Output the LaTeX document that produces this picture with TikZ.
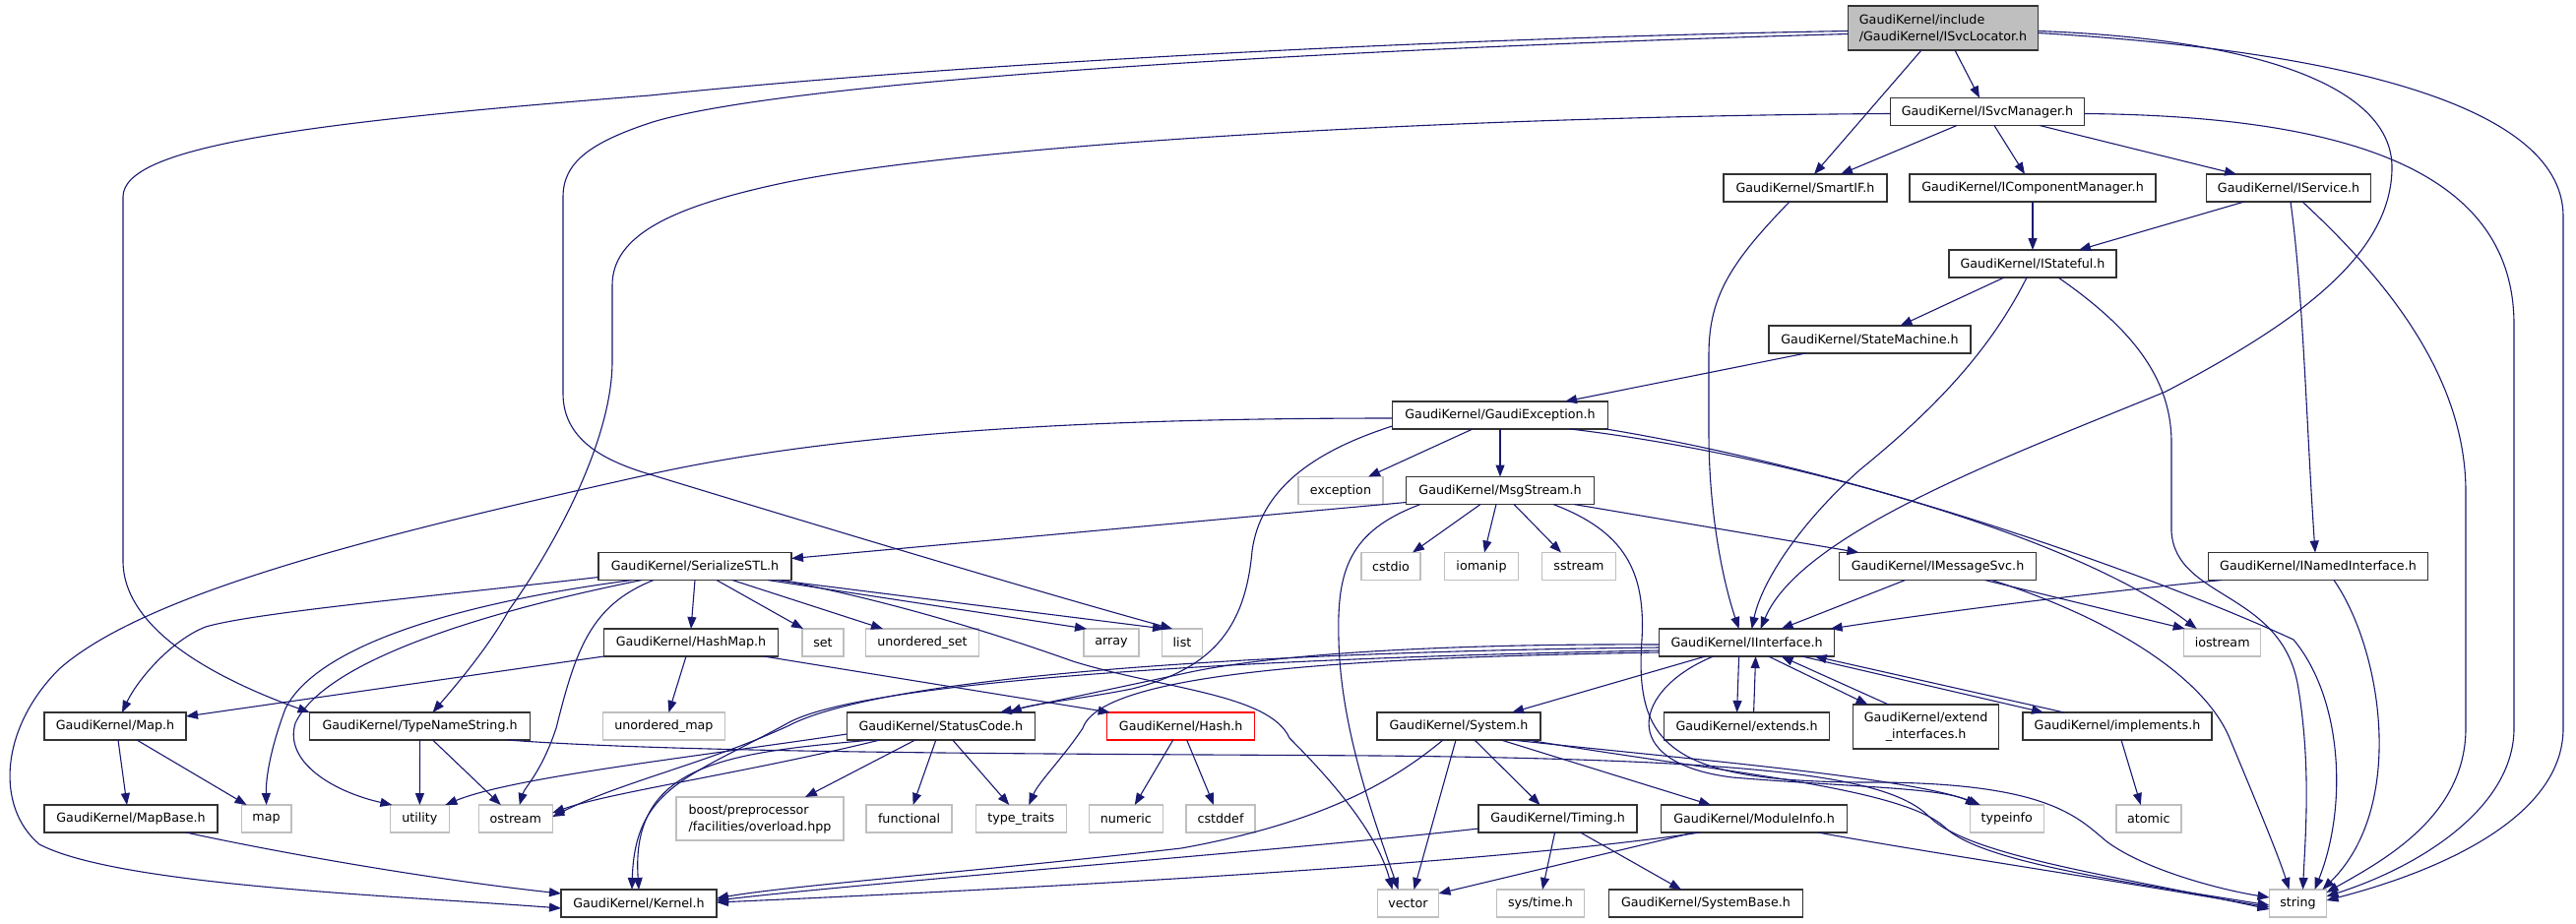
\documentclass[tikz,border=0pt]{standalone}
\usepackage{fontspec}
\setmainfont{DejaVu Sans}
\usetikzlibrary{arrows.meta}
\definecolor{edgecol}{HTML}{191970}
\definecolor{sysgray}{HTML}{BFBFBF}
\definecolor{boxline}{HTML}{333333}
\begin{document}
\begin{tikzpicture}[x=1pt,y=-1pt,
  every node/.style={font=\fontsize{12.7}{17}\selectfont, inner sep=0pt, outer sep=0pt, minimum height=28},
  box/.style={draw=boxline, line width=1.4pt, fill=white},
  sysbox/.style={draw=sysgray, line width=1.4pt, fill=white},
  redbox/.style={draw=red, line width=1.4pt, fill=white},
  rootbox/.style={draw=boxline, line width=1.4pt, fill=sysgray},
  edge/.style={draw=edgecol, line width=1.1pt, -{Triangle[length=12pt,width=9pt]}}]
\useasboundingbox (0,0) rectangle (2617,938);
% nodes
\node[rootbox, minimum width=193, minimum height=45, align=left] (root) at (1974,28.5) {GaudiKernel/include\\/GaudiKernel/ISvcLocator.h};
\node[box, minimum width=197] (svcmgr) at (2019,113.5) {GaudiKernel/ISvcManager.h};
\node[box, minimum width=166] (smartif) at (1834,191) {GaudiKernel/SmartIF.h};
\node[box, minimum width=250] (compmgr) at (2065,191) {GaudiKernel/IComponentManager.h};
\node[box, minimum width=167] (service) at (2325,191) {GaudiKernel/IService.h};
\node[box, minimum width=170] (stateful) at (2065,268) {GaudiKernel/IStateful.h};
\node[box, minimum width=205] (statemach) at (1899.5,345) {GaudiKernel/StateMachine.h};
\node[box, minimum width=219] (gexc) at (1524,422) {GaudiKernel/GaudiException.h};
\node[sysbox, minimum width=86] (exception) at (1362,498.5) {exception};
\node[box, minimum width=191] (msgstream) at (1524,498.5) {GaudiKernel/MsgStream.h};
\node[sysbox, minimum width=60] (cstdio) at (1413,575.5) {cstdio};
\node[sysbox, minimum width=75] (iomanip) at (1505,575.5) {iomanip};
\node[sysbox, minimum width=75] (sstream) at (1604,575.5) {sstream};
\node[box, minimum width=200] (msgsvc) at (1968.5,575.5) {GaudiKernel/IMessageSvc.h};
\node[box, minimum width=223] (named) at (2355,575.5) {GaudiKernel/INamedInterface.h};
\node[box, minimum width=196] (serial) at (706,575.5) {GaudiKernel/SerializeSTL.h};
\node[box, minimum width=177] (hashmap) at (702,653) {GaudiKernel/HashMap.h};
\node[sysbox, minimum width=42] (set) at (836,653) {set};
\node[sysbox, minimum width=115] (uset) at (937,653) {unordered\_set};
\node[sysbox, minimum width=56] (array) at (1129,653) {array};
\node[sysbox, minimum width=41] (list) at (1201,653) {list};
\node[box, minimum width=178] (iinterface) at (1774.6,653) {GaudiKernel/IInterface.h};
\node[sysbox, minimum width=78] (iostream) at (2257.7,653) {iostream};
\node[box, minimum width=144] (mapH) at (117,738) {GaudiKernel/Map.h};
\node[box, minimum width=224] (typename) at (426.6,738) {GaudiKernel/TypeNameString.h};
\node[sysbox, minimum width=124] (umap) at (674.4,738) {unordered\_map};
\node[box, minimum width=191] (statuscode) at (955.8,738) {GaudiKernel/StatusCode.h};
\node[redbox, minimum width=150] (hash) at (1199.7,738) {GaudiKernel/Hash.h};
\node[box, minimum width=166] (system) at (1482,738) {GaudiKernel/System.h};
\node[box, minimum width=168] (extends) at (1774.6,738) {GaudiKernel/extends.h};
\node[box, minimum width=148, minimum height=45, align=center] (extif) at (1956.6,738.5) {GaudiKernel/extend\\\_interfaces.h};
\node[box, minimum width=192] (implements) at (2151,738) {GaudiKernel/implements.h};
\node[box, minimum width=176] (mapbase) at (133,832) {GaudiKernel/MapBase.h};
\node[sysbox, minimum width=50.5] (map) at (270.6,832) {map};
\node[sysbox, minimum width=60] (utility) at (426.4,832) {utility};
\node[sysbox, minimum width=75] (ostream) at (523.8,832) {ostream};
\node[sysbox, minimum width=170, minimum height=44, align=left] (boost) at (772,832) {boost/preprocessor\\/facilities/overload.hpp};
\node[sysbox, minimum width=87] (functional) at (923.6,832) {functional};
\node[sysbox, minimum width=92] (typetraits) at (1037.3,832) {type\_traits};
\node[sysbox, minimum width=75] (numeric) at (1143.8,832) {numeric};
\node[sysbox, minimum width=70] (cstddef) at (1240,832) {cstddef};
\node[box, minimum width=161] (timing) at (1582.6,832) {GaudiKernel/Timing.h};
\node[box, minimum width=189] (moduleinfo) at (1782,832) {GaudiKernel/ModuleInfo.h};
\node[sysbox, minimum width=75] (typeinfo) at (2038.8,832) {typeinfo};
\node[sysbox, minimum width=66] (atomic) at (2182.8,832) {atomic};
\node[box, minimum width=158] (kernel) at (649,918) {GaudiKernel/Kernel.h};
\node[sysbox, minimum width=62] (vector) at (1430.5,918) {vector};
\node[sysbox, minimum width=89] (systime) at (1565,918) {sys/time.h};
\node[box, minimum width=197] (sysbase) at (1733,918) {GaudiKernel/SystemBase.h};
\node[sysbox, minimum width=58] (string) at (2334.5,918) {string};
% root
\draw[edge] ([xshift=12]root.south) -- ([xshift=-8]svcmgr.north);
\draw[edge] ([xshift=-22]root.south) -- ([xshift=9]smartif.north);
\draw[edge] ([yshift=-3]root.west) .. controls (1500,38) and (1000,62) .. (660,97) .. controls (300,125) and (125,150) .. (125,200) -- (125,570) .. controls (125,640) and (220,690) .. ([xshift=-112]typename.north);
\draw[edge] ([yshift=-6]root.west) .. controls (1400,48) and (800,80) .. (660,125) .. controls (600,145) and (572,165) .. (572,200) -- (572,400) .. controls (572,450) and (620,470) .. (660,482) .. controls (850,540) and (1050,600) .. ([xshift=-10]list.north);
\draw[edge] ([yshift=-3]root.east) .. controls (2300,40) and (2430,90) .. (2430,170) .. controls (2430,260) and (2330,330) .. (2200,398) .. controls (2050,460) and (1830,540) .. ([xshift=14]iinterface.north);
\draw[edge] ([yshift=-5]root.east) .. controls (2350,50) and (2604,100) .. (2604,220) -- (2604,740) .. controls (2604,830) and (2480,885) .. ([yshift=3]string.east);
% ISvcManager
\draw[edge] ([xshift=-31]svcmgr.south) -- ([xshift=36]smartif.north);
\draw[edge] ([xshift=7]svcmgr.south) -- ([xshift=-8]compmgr.north);
\draw[edge] ([xshift=53]svcmgr.south) -- ([xshift=-53]service.north);
\draw[edge] ([yshift=-2]svcmgr.west) .. controls (1500,118) and (1000,145) .. (800,185) .. controls (680,210) and (622,240) .. (622,290) -- (622,367) .. controls (622,450) and (560,560) .. (517,620) .. controls (495,660) and (460,700) .. ([xshift=13]typename.north);
\draw[edge] ([yshift=-2]svcmgr.east) .. controls (2400,118) and (2554,180) .. (2554,330) -- (2554,740) .. controls (2554,820) and (2460,880) .. ([yshift=7]string.east);
% SmartIF
\draw[edge] ([xshift=-16]smartif.south) .. controls (1760,265) and (1736,300) .. (1736,360) -- (1736,440) .. controls (1736,520) and (1750,590) .. ([xshift=-8]iinterface.north);
% IComponentManager, IService
\draw[edge] (compmgr.south) -- (stateful.north);
\draw[edge] ([xshift=-45]service.south) -- ([xshift=47]stateful.north);
\draw[edge] ([xshift=2]service.south) .. controls (2340,300) and (2343,430) .. ([xshift=-3]named.north);
\draw[edge] ([xshift=14]service.south) .. controls (2420,280) and (2505,380) .. (2505,500) -- (2505,740) .. controls (2505,830) and (2420,875) .. ([yshift=11]string.east);
% IStateful
\draw[edge] ([xshift=-29]stateful.south) -- ([xshift=31]statemach.north);
\draw[edge] ([xshift=-6]stateful.south) .. controls (2020,360) and (1960,420) .. (1890,477) .. controls (1830,530) and (1790,590) .. ([xshift=5]iinterface.north);
\draw[edge] ([xshift=26]stateful.south) .. controls (2160,330) and (2206,380) .. (2206,450) -- (2206,540) .. controls (2210,610) and (2320,600) .. (2335,700) .. controls (2348,780) and (2342,850) .. ([xshift=5]string.north);
% StateMachine
\draw[edge] ([xshift=-65]statemach.south) -- ([xshift=66]gexc.north);
% GaudiException
\draw[edge] ([xshift=-28]gexc.south) -- ([xshift=28]exception.north);
\draw[edge] (gexc.south) -- (msgstream.north);
\draw[edge] ([yshift=3]gexc.south west) .. controls (1330,460) and (1280,500) .. (1272,560) .. controls (1265,640) and (1230,680) .. (1150,700) .. controls (1100,710) and (1050,715) .. ([xshift=70]statuscode.north);
\draw[edge] ([yshift=-3]gexc.west) .. controls (1100,425) and (850,440) .. (660,482) .. controls (400,540) and (150,600) .. (60,680) .. controls (0,740) and (-5,820) .. (40,858) .. controls (120,900) and (400,910) .. ([yshift=-5]kernel.west);
\draw[edge] ([xshift=71]gexc.south) .. controls (1800,460) and (2100,540) .. ([xshift=-26]iostream.north);
\draw[edge] ([xshift=-2]gexc.south east) .. controls (1900,480) and (2200,590) .. (2330,650) .. controls (2380,710) and (2385,820) .. ([xshift=17]string.north);
% MsgStream
\draw[edge] ([yshift=2]msgstream.south west) -- ([yshift=8]serial.east);
\draw[edge] ([xshift=-20]msgstream.south) -- ([xshift=22]cstdio.north);
\draw[edge] ([xshift=-4]msgstream.south) -- ([xshift=3]iomanip.north);
\draw[edge] ([xshift=14]msgstream.south) -- ([xshift=-18]sstream.north);
\draw[edge] ([xshift=75]msgstream.south) -- ([xshift=-80]msgsvc.north);
\draw[edge] ([xshift=-81]msgstream.south) .. controls (1370,540) and (1358,580) .. (1360,650) .. controls (1362,740) and (1395,830) .. ([xshift=-10]vector.north);
\draw[edge] ([xshift=54]msgstream.south) .. controls (1650,540) and (1672,580) .. (1668,650) .. controls (1660,760) and (1700,795) .. (1900,795) .. controls (2080,795) and (2110,830) .. (2140,855) .. controls (2180,885) and (2260,905) .. ([yshift=6]string.west);
% IMessageSvc
\draw[edge] ([xshift=-33]msgsvc.south) -- ([xshift=35]iinterface.north);
\draw[edge] ([xshift=48]msgsvc.south) -- ([xshift=-38]iostream.north);
\draw[edge] ([xshift=55]msgsvc.south) .. controls (2150,630) and (2240,690) .. (2265,750) .. controls (2290,810) and (2315,870) .. ([xshift=-9]string.north);
% INamedInterface
\draw[edge] ([xshift=-98]named.south) .. controls (2100,605) and (1950,625) .. ([xshift=-4]iinterface.north east);
\draw[edge] ([xshift=16]named.south) .. controls (2420,660) and (2445,820) .. ([xshift=-4]string.north east);
% IInterface
\draw[edge] ([xshift=-42]iinterface.south) -- ([xshift=54]system.north);
\draw[edge] ([xshift=-8]iinterface.south) -- ([xshift=-10]extends.north);
\draw[edge] ([xshift=7]extends.north) -- ([xshift=9]iinterface.south);
\draw[edge] ([xshift=22]iinterface.south) -- ([xshift=-59]extif.north);
\draw[edge] ([xshift=-38]extif.north) -- ([xshift=35]iinterface.south);
\draw[edge] ([xshift=56]iinterface.south) -- ([xshift=-75]implements.north);
\draw[edge] ([xshift=-54]implements.north) -- ([xshift=69]iinterface.south);
\draw[edge] ([yshift=-2]iinterface.west) .. controls (1500,654) and (1300,662) .. (1200,685) .. controls (1120,702) and (1060,715) .. ([xshift=60]statuscode.north);
\draw[edge] ([yshift=-5]iinterface.west) .. controls (1300,662) and (900,685) .. (800,738) .. controls (720,775) and (630,795) .. ([yshift=2]ostream.east);
\draw[edge] ([yshift=-8]iinterface.west) .. controls (1300,668) and (880,690) .. (800,735) .. controls (700,790) and (645,800) .. ([xshift=-7]kernel.north);
\draw[edge] ([yshift=-10]iinterface.west) .. controls (1400,668) and (1120,680) .. (1100,740) .. controls (1080,770) and (1055,795) .. ([xshift=8]typetraits.north);
\draw[edge] ([xshift=-34]iinterface.south) .. controls (1660,700) and (1640,775) .. (1760,790) .. controls (1880,800) and (1970,800) .. ([xshift=-30]typeinfo.north);
% System
\draw[edge] ([xshift=-3]system.south) -- ([xshift=6]vector.north);
\draw[edge] ([xshift=16]system.south) -- ([xshift=-18]timing.north);
\draw[edge] ([xshift=43]system.south) -- ([xshift=-44]moduleinfo.north);
\draw[edge] ([xshift=-16]system.south) .. controls (1420,790) and (1350,835) .. (1200,862) .. controls (1000,885) and (800,900) .. ([yshift=5]kernel.east);
\draw[edge] ([xshift=54]system.south) .. controls (1720,772) and (1940,790) .. ([xshift=-27]typeinfo.north);
\draw[edge] ([xshift=70]system.south) .. controls (1750,785) and (1930,800) .. (1975,840) .. controls (2010,875) and (2150,895) .. ([yshift=-2]string.west);
% TypeNameString
\draw[edge] (typename.south) -- (utility.north);
\draw[edge] ([xshift=13]typename.south) -- ([xshift=-15]ostream.north);
\draw[edge] ([xshift=89]typename.south) .. controls (700,766) and (1100,766) .. (1400,768) .. controls (1800,772) and (1920,790) .. (1960,830) .. controls (2000,870) and (2150,890) .. ([yshift=-6]string.west);
% ModuleInfo
\draw[edge] ([xshift=65]moduleinfo.south) .. controls (1950,865) and (2150,895) .. ([yshift=-4]string.west);
\draw[edge] ([xshift=-61]moduleinfo.south) -- ([yshift=10]vector.east);
\draw[edge] ([xshift=-55]moduleinfo.south) .. controls (1500,880) and (1000,905) .. ([yshift=1]kernel.east);
% Timing
\draw[edge] ([xshift=-3]timing.south) -- ([xshift=2]systime.north);
\draw[edge] ([xshift=23]timing.south) -- ([xshift=-25]sysbase.north);
\draw[edge] ([yshift=-10]timing.west) .. controls (1300,865) and (900,895) .. ([yshift=3]kernel.east);
% SerializeSTL
\draw[edge] (serial.south) -- (hashmap.north);
\draw[edge] ([xshift=22]serial.south) -- ([xshift=-20]set.north);
\draw[edge] ([xshift=38]serial.south) -- ([xshift=-40]uset.north);
\draw[edge] ([xshift=74]serial.south) -- ([xshift=-25]array.north);
\draw[edge] ([xshift=83]serial.south) -- ([xshift=-18]list.north);
\draw[edge] ([xshift=88]serial.south) .. controls (900,610) and (1000,640) .. (1090,672) .. controls (1180,700) and (1290,705) .. (1310,750) .. controls (1360,800) and (1400,850) .. ([xshift=-16]vector.north);
\draw[edge] ([xshift=-64]serial.south) .. controls (450,615) and (320,660) .. (290,720) .. controls (275,760) and (270,790) .. (map.north);
\draw[edge] ([xshift=-54]serial.south) .. controls (500,620) and (330,670) .. (300,735) .. controls (288,775) and (340,805) .. ([xshift=-28]utility.north);
\draw[edge] ([xshift=-42]serial.south) .. controls (600,615) and (585,660) .. (565,740) .. controls (550,785) and (533,800) .. ([xshift=4]ostream.north);
\draw[edge] ([yshift=3]serial.south west) .. controls (450,605) and (260,622) .. (209,637) .. controls (175,650) and (140,690) .. ([xshift=7]mapH.north);
% HashMap
\draw[edge] (hashmap.south west) -- ([yshift=10]mapH.east);
\draw[edge] ([xshift=-5]hashmap.south) -- ([xshift=5]umap.north);
\draw[edge] ([xshift=74]hashmap.south) -- ([xshift=3]hash.north west);
% Hash
\draw[edge] ([xshift=-8]hash.south) -- ([xshift=9]numeric.north);
\draw[edge] ([xshift=6]hash.south) -- ([xshift=-7]cstddef.north);
% StatusCode
\draw[edge] ([xshift=-26]statuscode.south) -- ([xshift=46]boost.north);
\draw[edge] ([xshift=-5]statuscode.south) -- ([xshift=4]functional.north);
\draw[edge] ([xshift=12]statuscode.south) -- ([xshift=-12]typetraits.north);
\draw[edge] ([yshift=-8]statuscode.west) .. controls (700,770) and (520,790) .. ([xshift=-4]utility.north east);
\draw[edge] ([xshift=-62]statuscode.south) .. controls (760,785) and (620,805) .. ([yshift=6]ostream.east);
\draw[edge] ([xshift=-70]statuscode.south) .. controls (740,765) and (640,775) .. (kernel.north);
% Map, MapBase
\draw[edge] ([xshift=3]mapH.south) -- ([xshift=-4]mapbase.north);
\draw[edge] ([xshift=22]mapH.south) -- ([xshift=-20]map.north);
\draw[edge] ([xshift=56]mapbase.south) .. controls (300,870) and (450,895) .. ([yshift=10]kernel.west);
% implements
\draw[edge] ([xshift=4]implements.south) -- ([xshift=-8]atomic.north);
\end{tikzpicture}
\end{document}
